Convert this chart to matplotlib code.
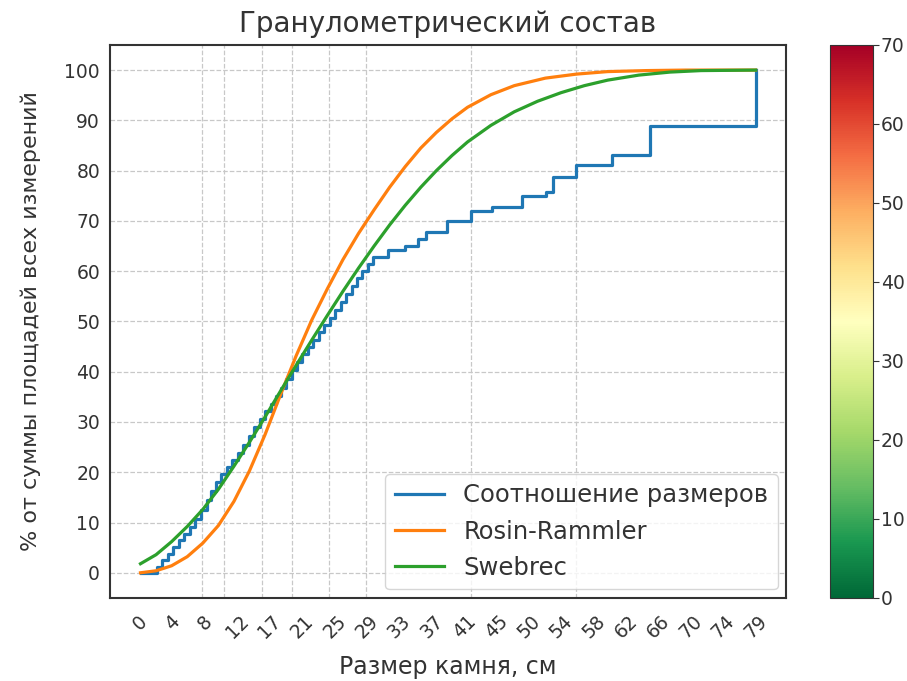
import numpy as np
import matplotlib
matplotlib.use("Agg")
import matplotlib.pyplot as plt
from matplotlib import cm, colors

# measured size ratio (step curve)
size_x = [0, 2.1, 2.8, 3.5, 4.2, 5.0, 5.6, 6.3, 7.0, 7.8, 8.5, 9.1, 9.7, 10.4,
          11.1, 11.8, 12.5, 13.2, 13.9, 14.6, 15.3, 16.0, 16.7, 17.4, 18.0,
          18.7, 19.4, 20.1, 20.8, 21.5, 22.2, 22.9, 23.6, 24.3, 25.0, 25.7,
          26.4, 27.1, 27.8, 28.5, 29.2, 29.8, 31.8, 34.0, 35.6, 36.7, 39.3,
          42.5, 45.2, 49.0, 52.1, 53.0, 55.9, 60.6, 65.5, 79.0]
size_y = [0, 1.2, 2.5, 3.8, 5.2, 6.5, 7.8, 9.2, 10.6, 12.5, 14.5, 16.3, 18.0,
          19.6, 21.0, 22.4, 23.8, 25.5, 27.3, 29.0, 30.6, 32.2, 33.6, 35.2,
          36.8, 38.6, 40.4, 42.0, 43.5, 45.0, 46.4, 47.8, 49.2, 50.6, 52.2,
          53.8, 55.4, 57.0, 58.6, 60.0, 61.4, 62.8, 64.3, 65.1, 66.3, 67.8,
          70.0, 71.9, 72.7, 75.0, 75.8, 78.7, 81.2, 83.2, 88.8, 100]

# Rosin-Rammler curve
rr_x = [0, 2, 4, 6, 8, 10, 12, 14, 16, 18, 20, 22, 24, 26, 28, 30, 32, 34, 36,
        38, 40, 42, 45, 48, 52, 56, 60, 65, 70, 79]
rr_y = [0, 0.4, 1.4, 3.2, 5.9, 9.4, 14.2, 20.3, 27.5, 35.5, 43.2, 50.3, 56.5,
        62.3, 67.5, 72.2, 76.7, 80.8, 84.5, 87.6, 90.3, 92.6, 95.1, 96.9,
        98.4, 99.2, 99.7, 99.9, 100, 100]

# Swebrec curve
sw_x = [0, 2, 4, 6, 8, 10, 12, 14, 16, 18, 20, 22, 24, 26, 28, 30, 32, 34, 36,
        38, 40, 42, 45, 48, 51, 54, 57, 60, 64, 68, 72, 79]
sw_y = [1.8, 3.6, 6.2, 9.2, 12.6, 16.6, 21.2, 26.0, 31.0, 36.2, 41.3, 46.3,
        51.2, 56.0, 60.6, 65.0, 69.2, 73.1, 76.7, 80.0, 83.0, 85.7, 89.0, 91.7,
        93.8, 95.5, 96.9, 98.0, 99.0, 99.6, 99.9, 100]

tick_labels = ['0', '4', '8', '12', '17', '21', '25', '29', '33', '37', '41',
               '45', '50', '54', '58', '62', '66', '70', '74', '79']
grid_x = [7.9, 10.7, 15.6, 19.4, 24.2, 29.0, 42.5, 55.9, 79.0]

plt.rcParams['font.family'] = 'DejaVu Sans'
plt.rcParams['text.color'] = '#333333'
plt.rcParams['axes.labelcolor'] = '#333333'
plt.rcParams['xtick.color'] = '#333333'
plt.rcParams['ytick.color'] = '#333333'

fig = plt.figure(figsize=(9.07, 6.81), dpi=100)
ax = fig.add_axes([0.121, 0.122, 0.746, 0.812])
cax = fig.add_axes([0.915, 0.122, 0.047, 0.812])

ax.plot(size_x, size_y, drawstyle='steps-post', color='#1f77b4', lw=2.3,
        label='Соотношение размеров')
ax.plot(rr_x, rr_y, color='#ff7f0e', lw=2.3, label='Rosin-Rammler')
ax.plot(sw_x, sw_y, color='#2ca02c', lw=2.3, label='Swebrec')

ax.set_xlim(-3.95, 82.95)
ax.set_ylim(-5, 105)
ax.set_xticks(np.linspace(0, 79, len(tick_labels)))
ax.set_xticklabels(tick_labels, rotation=45)
ax.set_xticks(grid_x, minor=True)
ax.set_yticks(range(0, 101, 10))
ax.tick_params(axis='both', which='both', length=0, labelsize=13.5)
ax.tick_params(axis='x', pad=10)
ax.tick_params(axis='y', pad=7)
ax.grid(False)
ax.grid(True, which='minor', axis='x', ls='--', color='#c8c8c8', lw=0.9)
ax.grid(True, which='major', axis='y', ls='--', color='#c8c8c8', lw=0.9)
for s in ax.spines.values():
    s.set_color('#333333')
    s.set_linewidth(1.5)

ax.set_title('Гранулометрический состав', fontsize=20, pad=9)
ax.set_xlabel('Размер камня, см', fontsize=17, labelpad=9)
ax.set_ylabel('% от суммы площадей всех измерений', fontsize=16, labelpad=17)
ax.legend(loc='lower right', fontsize=17.5, framealpha=0.8, edgecolor='#cccccc',
          borderaxespad=0.35)

sm = cm.ScalarMappable(norm=colors.Normalize(0, 70), cmap='RdYlGn_r')
cb = fig.colorbar(sm, cax=cax)
cb.set_ticks(range(0, 71, 10))
cb.ax.tick_params(labelsize=13.5, length=4, pad=2, color='#333333')
cb.outline.set_edgecolor('#333333')

fig.savefig('out.png', dpi=100)
